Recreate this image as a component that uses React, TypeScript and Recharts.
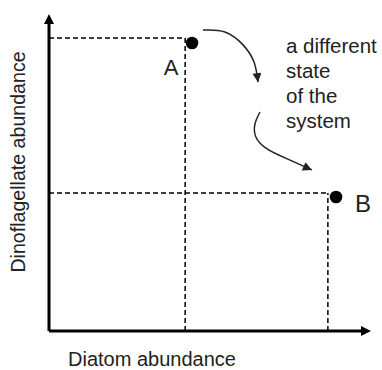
import { ComposedChart, XAxis, YAxis, Line, Scatter, ReferenceLine } from 'recharts';

// two states of the plankton community (axis units 0..10, no ticks shown)
const stateNames = ['A', 'B'];
const diatom = [4.57, 9.17];
const dinoflagellate = [9.35, 4.35];

// dashed guides dropped from each state to the axes
const guideDiatom = [4.35, 8.91];
const guideDino = [9.51, 4.48];

// curved arrows showing the shift A -> B
const shiftOutX = [4.92, 5.62, 6.2, 6.55, 6.68];
const shiftOutY = [9.77, 9.71, 9.29, 8.73, 8.08];
const shiftInX = [6.74, 6.58, 6.61, 6.93, 7.54, 8.4];
const shiftInY = [7.11, 6.72, 6.3, 5.94, 5.62, 5.23];

const noteLines = ['a different', 'state', 'of the', 'system'];
const xTitle = 'Diatom abundance';
const yTitle = 'Dinoflagellate abundance';

const states = stateNames.map((name, i) => ({ name, x: diatom[i], y: dinoflagellate[i] }));
const shiftOut = shiftOutX.map((x, i) => ({ x, y: shiftOutY[i] }));
const shiftIn = shiftInX.map((x, i) => ({ x, y: shiftInY[i] }));

const FONT = '"Liberation Sans", Arial, sans-serif';
const INK = '#222';

const labelOffset: Record<string, { dx: number; dy: number; size: number }> = {
  A: { dx: -21, dy: 32, size: 22 },
  B: { dx: 27, dy: 15, size: 24 },
};

const StateDot = (props: any) => {
  const { cx, cy, payload } = props;
  const off = labelOffset[payload.name];
  return (
    <g>
      <circle cx={cx} cy={cy} r={6.3} fill="#000" />
      <text x={cx + off.dx} y={cy + off.dy} textAnchor="middle" fontFamily={FONT} fontSize={off.size} fill={INK}>
        {payload.name}
      </text>
    </g>
  );
};

const XTitle = (props: any) => {
  const vb = props.viewBox;
  return (
    <text x={vb.x + 19} y={vb.y + 35} fontFamily={FONT} fontSize={20} fill={INK}>
      {xTitle}
    </text>
  );
};

const YTitle = (props: any) => {
  const vb = props.viewBox;
  const x = vb.x + 25;
  const y = vb.y + vb.height / 2 - 15;
  return (
    <text x={x} y={y} transform={`rotate(-90, ${x}, ${y})`} textAnchor="middle" fontFamily={FONT} fontSize={19.6} fill={INK}>
      {yTitle}
    </text>
  );
};

const dash = { stroke: '#000', strokeWidth: 1.5, strokeDasharray: '5 3' };

export default function App() {
  return (
    <div style={{ position: 'absolute', left: 0, top: 0, background: '#fff' }}>
      <ComposedChart width={382} height={370} margin={{ top: 23, right: 20, bottom: 0, left: 0 }}>
        <defs>
          <marker id="axisHead" viewBox="0 0 10 10" refX="1" refY="5" markerWidth="10" markerHeight="10"
            markerUnits="userSpaceOnUse" orient="auto-start-reverse">
            <path d="M0,0 L10,5 L0,10 z" fill="#000" />
          </marker>
          <marker id="shiftHead" viewBox="0 0 10 10" refX="10" refY="5" markerWidth="10" markerHeight="9"
            markerUnits="userSpaceOnUse" orient="auto">
            <path d="M0,0 L10,5 L0,10 z" fill={INK} />
          </marker>
        </defs>
        <XAxis type="number" dataKey="x" domain={[0, 10]} height={39} tick={false} tickLine={false}
          axisLine={{ stroke: '#000', strokeWidth: 3, markerEnd: 'url(#axisHead)' }} label={<XTitle />} />
        <YAxis type="number" dataKey="y" domain={[0, 10]} width={49} tick={false} tickLine={false}
          axisLine={{ stroke: '#000', strokeWidth: 3, markerStart: 'url(#axisHead)' }} label={<YTitle />} />
        {states.map((s, i) => (
          <ReferenceLine key={'h' + s.name} segment={[{ x: 0, y: guideDino[i] }, { x: guideDiatom[i], y: guideDino[i] }]} {...dash} />
        ))}
        {states.map((s, i) => (
          <ReferenceLine key={'v' + s.name} segment={[{ x: guideDiatom[i], y: 0 }, { x: guideDiatom[i], y: guideDino[i] }]} {...dash} />
        ))}
        <Line data={shiftOut} dataKey="y" type="natural" stroke={INK} strokeWidth={1.5} dot={false} activeDot={false}
          isAnimationActive={false} markerEnd="url(#shiftHead)" />
        <Line data={shiftIn} dataKey="y" type="natural" stroke={INK} strokeWidth={1.5} dot={false} activeDot={false}
          isAnimationActive={false} markerEnd="url(#shiftHead)" />
        <Scatter data={states} dataKey="y" shape={<StateDot />} isAnimationActive={false} />
        <text x={286} y={53} fontFamily={FONT} fontSize={20.5} fill={INK}>
          {noteLines.map((t, i) => (
            <tspan key={t} x={286} dy={i === 0 ? 0 : 25}>{t}</tspan>
          ))}
        </text>
      </ComposedChart>
    </div>
  );
}
